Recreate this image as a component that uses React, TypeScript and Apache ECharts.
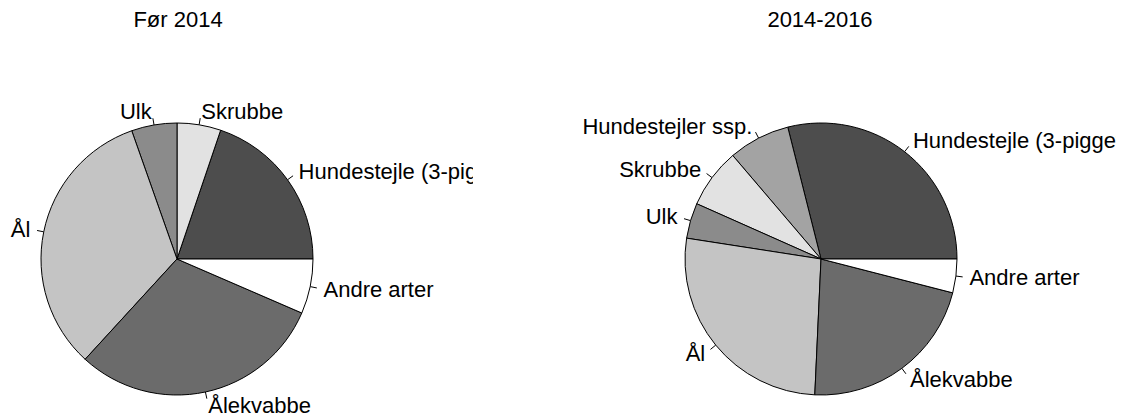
import React, { useEffect, useRef } from "react";
import * as echarts from "echarts";

const leftTitle = "Før 2014";
const rightTitle = "2014-2016";

const leftCategories = ["Hundestejle (3-pigget)", "Skrubbe", "Ulk", "Ål", "Ålekvabbe", "Andre arter"];
const leftValues = [19.8, 5.2, 5.4, 32.8, 30.3, 6.5];

const rightCategories = ["Hundestejle (3-pigget)", "Hundestejler ssp.", "Skrubbe", "Ulk", "Ål", "Ålekvabbe", "Andre arter"];
const rightValues = [28.9, 7.3, 7.1, 4.2, 26.7, 21.7, 4.0];

const speciesColors: Record<string, string> = {
  "Hundestejle (3-pigget)": "#4d4d4d",
  "Hundestejler ssp.": "#a3a3a3",
  "Skrubbe": "#e2e2e2",
  "Ulk": "#8b8b8b",
  "Ål": "#c4c4c4",
  "Ålekvabbe": "#6b6b6b",
  "Andre arter": "#ffffff",
};

const FONT = "'Liberation Sans', Arial, sans-serif";
const R = 136;

function layoutLabel(params: any) {
  const pts = params.labelLinePoints;
  if (!pts || pts.length < 2) return {};
  const x0 = pts[0][0], y0 = pts[0][1];
  const x1 = pts[1][0], y1 = pts[1][1];
  const len = Math.hypot(x1 - x0, y1 - y0) || 1;
  const dx = (x1 - x0) / len;
  const dy = (y1 - y0) / len;
  return {
    x: x0 + dx * 0.1 * R,
    y: y0 + dy * 0.1 * R,
    align: dx < 0 ? "right" : "left",
    verticalAlign: "middle",
    labelLinePoints: [
      [x0, y0],
      [x0 + dx * 0.05 * R, y0 + dy * 0.05 * R],
    ],
  };
}

function buildOption(title: string, titleX: number, cx: number, cats: string[], vals: number[]) {
  return {
    animation: false,
    backgroundColor: "#ffffff",
    title: {
      text: title,
      left: titleX,
      top: 8,
      textAlign: "center",
      padding: 0,
      textStyle: { fontFamily: FONT, fontSize: 22, fontWeight: "normal", color: "#000" },
    },
    series: [
      {
        type: "pie",
        center: [cx, 259],
        radius: R,
        startAngle: 0,
        clockwise: false,
        avoidLabelOverlap: false,
        silent: true,
        emphasis: { disabled: true },
        data: cats.map((name, i) => ({
          name,
          value: vals[i],
          itemStyle: { color: speciesColors[name] },
        })),
        itemStyle: { borderColor: "#000", borderWidth: 1 },
        label: {
          show: true,
          position: "outside",
          formatter: "{b}",
          color: "#000",
          fontFamily: FONT,
          fontSize: 22,
        },
        labelLine: {
          show: true,
          length: 7,
          length2: 0,
          lineStyle: { color: "#000", width: 1 },
        },
        labelLayout: layoutLabel,
      },
    ],
  };
}

export default function App() {
  const leftRef = useRef<HTMLDivElement>(null);
  const rightRef = useRef<HTMLDivElement>(null);

  useEffect(() => {
    if (!leftRef.current || !rightRef.current) return;
    const left = echarts.init(leftRef.current, null, { renderer: "svg" });
    const right = echarts.init(rightRef.current, null, { renderer: "svg" });
    left.setOption(buildOption(leftTitle, 178, 177, leftCategories, leftValues) as any);
    right.setOption(buildOption(rightTitle, 347, 348, rightCategories, rightValues) as any);
    return () => {
      left.dispose();
      right.dispose();
    };
  }, []);

  return (
    <div style={{ position: "absolute", left: 0, top: 0, width: 1130, height: 418, background: "#fff", overflow: "hidden" }}>
      <div ref={leftRef} style={{ position: "absolute", left: 0, top: 0, width: 473, height: 418 }} />
      <div ref={rightRef} style={{ position: "absolute", left: 473, top: 0, width: 643, height: 418 }} />
    </div>
  );
}
